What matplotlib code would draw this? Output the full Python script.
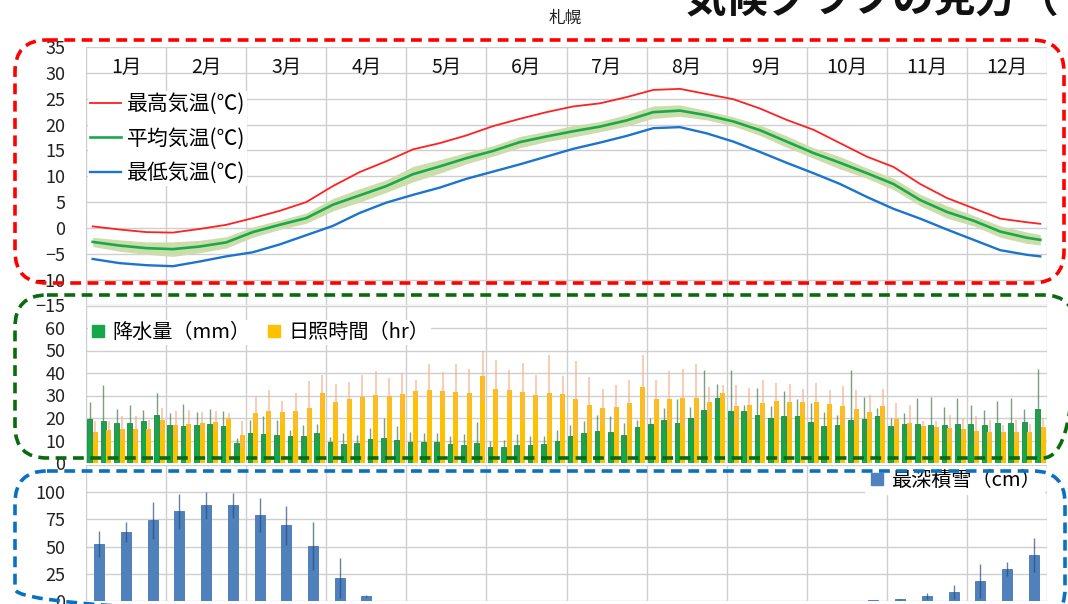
import numpy as np
import matplotlib.pyplot as plt
from matplotlib.patches import FancyBboxPatch
from matplotlib.lines import Line2D

plt.rcParams['font.family'] = ['Noto Sans CJK JP', 'DejaVu Sans']

# 気温（半旬、2半旬ごとに読み取り）
pentad_idx = list(range(0, 72, 2)) + [71]
tmax = [0.3, -0.3, -0.8, -0.9, -0.2, 0.6, 1.9, 3.3, 5.0, 8.1,
        10.8, 12.9, 15.2, 16.4, 17.9, 19.7, 21.1, 22.4, 23.5, 24.1,
        25.3, 26.7, 26.9, 25.9, 24.9, 23.1, 20.9, 19.0, 16.4, 13.8,
        11.8, 8.5, 5.8, 3.8, 1.8, 1.1, 0.8]
tmean = [-2.7, -3.4, -3.9, -4.1, -3.6, -2.8, -0.8, 0.6, 1.9, 4.5,
         6.3, 8.1, 10.4, 11.9, 13.5, 14.9, 16.6, 17.7, 18.7, 19.6,
         20.8, 22.4, 22.7, 21.8, 20.6, 18.9, 16.7, 14.5, 12.6, 10.6,
         8.5, 5.4, 3.1, 1.4, -0.7, -1.9, -2.3]
tmin = [-6.0, -6.8, -7.2, -7.4, -6.5, -5.5, -4.7, -3.2, -1.4, 0.4,
        2.9, 4.9, 6.4, 7.8, 9.5, 10.9, 12.3, 13.8, 15.3, 16.5,
        17.8, 19.3, 19.5, 18.3, 16.7, 14.7, 12.6, 10.6, 8.5, 6.0,
        3.7, 1.8, -0.3, -2.3, -4.3, -5.2, -5.5]
tmean_spread = [0.9, 1.1, 1.2, 1.4, 1.2, 1.1, 1.0, 0.9, 1.0, 1.2,
                1.3, 1.2, 1.5, 1.3, 1.1, 1.0, 1.1, 1.0, 1.1, 1.0,
                1.1, 1.2, 1.1, 0.9, 0.9, 1.0, 1.1, 1.0, 1.2, 1.0,
                1.1, 1.1, 1.2, 1.0, 1.1, 1.1, 1.0]

# 降水量・日照時間（72半旬）
precip = [19.6, 18.8, 18.0, 18.0, 18.6, 21.3,
          16.7, 16.4, 16.8, 17.3, 16.4, 8.9,
          13.4, 12.9, 12.6, 11.9, 11.9, 13.5,
          9.5, 8.5, 8.9, 10.7, 11.2, 10.1,
          9.5, 9.5, 9.2, 8.3, 8.0, 8.9,
          7.1, 7.1, 8.0, 8.0, 8.3, 10.0,
          11.9, 13.4, 14.4, 13.7, 12.5, 15.9,
          17.3, 19.0, 17.9, 19.8, 23.7, 28.9,
          23.2, 22.9, 21.3, 19.9, 21.0, 20.7,
          18.3, 16.4, 16.7, 19.0, 19.6, 21.0,
          16.4, 17.3, 17.3, 16.8, 16.7, 17.3,
          17.3, 17.1, 17.6, 17.6, 18.3, 23.8]
precip_hi = [27.1, 34.5, 24.0, 25.9, 23.5, 31.3,
             22.2, 26.2, 22.6, 24.0, 22.9, 11.0,
             18.9, 21.1, 18.9, 14.7, 16.7, 17.3,
             11.5, 13.2, 12.5, 15.5, 20.1, 16.4,
             13.7, 13.2, 13.2, 12.2, 12.9, 18.2,
             10.0, 10.4, 12.9, 12.2, 12.0, 14.7,
             17.0, 18.5, 21.4, 20.8, 17.7, 19.3,
             20.1, 24.4, 28.3, 25.0, 41.2, 35.3,
             41.2, 25.6, 33.5, 25.3, 32.0, 28.3,
             26.6, 22.6, 21.5, 41.2, 29.3, 24.4,
             19.9, 22.2, 28.9, 29.2, 25.0, 28.9,
             25.6, 23.7, 27.4, 28.9, 24.1, 41.7]
sunshine = [14.0, 14.7, 14.9, 14.9, 14.9, 19.0,
            17.1, 17.4, 17.7, 18.3, 19.8, 12.5,
            22.2, 22.9, 22.6, 22.9, 24.4, 31.1,
            27.1, 28.3, 29.3, 30.1, 29.8, 30.8,
            32.1, 32.6, 32.1, 31.5, 31.3, 38.5,
            33.0, 32.6, 31.5, 30.4, 31.0, 30.7,
            28.4, 25.9, 24.4, 25.1, 26.8, 33.6,
            28.3, 28.4, 28.7, 28.7, 27.2, 31.0,
            25.3, 25.7, 26.8, 27.5, 27.2, 26.9,
            26.9, 26.3, 25.4, 24.0, 22.6, 25.3,
            19.6, 18.0, 16.5, 15.8, 15.5, 15.2,
            14.1, 13.7, 13.7, 14.0, 14.0, 16.1]
sunshine_hi = [18.5, 18.5, 20.8, 20.8, 19.0, 24.6,
               22.9, 23.7, 22.6, 22.9, 22.3, 18.5,
               29.3, 32.3, 27.5, 31.3, 36.3, 39.0,
               35.3, 36.0, 39.0, 40.9, 37.8, 40.0,
               36.8, 44.2, 40.5, 43.9, 41.7, 49.9,
               45.7, 41.5, 44.5, 39.0, 48.2, 38.5,
               45.2, 38.4, 32.7, 34.8, 36.8, 47.9,
               36.8, 40.8, 41.7, 44.0, 33.8, 34.8,
               34.5, 33.3, 36.8, 35.7, 35.0, 32.7,
               35.7, 32.6, 34.2, 32.4, 30.1, 33.0,
               26.8, 25.6, 18.8, 18.8, 21.4, 19.9,
               20.8, 18.9, 17.0, 18.9, 17.4, 19.9]

# 最深積雪（36旬）
snow = [52.8, 63.4, 74.1, 82.5, 87.8, 87.8, 79.1, 69.7, 50.6, 21.3, 4.4,
        0, 0, 0, 0, 0, 0, 0, 0, 0, 0, 0, 0, 0, 0, 0, 0, 0, 0,
        0.5, 1.5, 4.4, 8.4, 18.4, 29.4, 42.2]
snow_hi = [64.7, 72.5, 91.3, 98.8, 100.0, 99.7, 95.0, 87.5, 72.5, 39.4, 5.5,
           0, 0, 0, 0, 0, 0, 0, 0, 0, 0, 0, 0, 0, 0, 0, 0, 0, 0,
           0.6, 1.8, 6.9, 14.7, 34.4, 35.6, 58.1]

months = [f'{m}月' for m in range(1, 13)]

W, H = 1068, 604
fig = plt.figure(figsize=(W / 100, H / 100), dpi=100)


def px_axes(x0, y0, x1, y1):
    return fig.add_axes([x0 / W, 1 - y1 / H, (x1 - x0) / W, (y1 - y0) / H])


def style(ax, ymin, ymax, step, labels):
    ax.set_xlim(0, 12)
    ax.set_ylim(ymin, ymax)
    ax.set_xticks(range(13))
    ax.set_yticks(labels)
    ax.set_yticks(np.arange(ymin, ymax + 0.1, step), minor=True)
    ax.grid(True, which='both', color='#cfcfcf', lw=1)
    ax.set_axisbelow(True)
    for s in ax.spines.values():
        s.set_visible(False)
    ax.tick_params(which='both', length=0, labelbottom=False, pad=15, labelsize=13, labelcolor='#222222')


# 気温
ax1 = px_axes(86, 47, 1047, 305.5)
style(ax1, -15, 35, 5, np.arange(-15, 36, 5))
xt = (np.array(pentad_idx) + 0.5) / 6
lo = np.array(tmean) - np.array(tmean_spread)
hi = np.array(tmean) + np.array(tmean_spread)
ax1.fill_between(xt, lo, hi, color='#cbddab', lw=0)
ax1.plot(xt, tmax, color='#ff2020', lw=1.3)
ax1.plot(xt, tmean, color='#1aa84a', lw=1.9)
ax1.plot(xt, tmin, color='#1c74cc', lw=1.7)
for i, m in enumerate(months):
    ax1.text(i + 0.5, 31.1, m, ha='center', va='center', fontsize=14, color='#111111')
h1 = [Line2D([], [], color='#ff2020', lw=1.3),
      Line2D([], [], color='#1aa84a', lw=1.9),
      Line2D([], [], color='#1c74cc', lw=1.7)]
ax1.legend(h1, ['最高気温(℃)', '平均気温(℃)', '最低気温(℃)'], loc='upper left',
           bbox_to_anchor=(0.002, 0.83), fontsize=15, frameon=True, fancybox=False,
           edgecolor='none', framealpha=1, handlelength=1.5, handletextpad=0.25,
           labelspacing=0.6, borderpad=0.1, borderaxespad=0)

# 降水量・日照時間
ax2 = px_axes(86, 305.5, 1047, 463)
style(ax2, 0, 70, 10, np.arange(0, 61, 10))
xp = (np.arange(72) + 0.5) / 6
bw = 5 / 80
off = 2.8 / 80
p = np.array(precip)
s = np.array(sunshine)
ax2.bar(xp - off, p, width=bw, color='#14a84a', edgecolor='#0e8d3d', lw=0.6, zorder=2)
ax2.bar(xp + off, s, width=bw, color='#ffc000', lw=0, zorder=2)
ax2.errorbar(xp - off, p, yerr=np.array(precip_hi) - p, fmt='none',
             ecolor='#4f7f5a', elinewidth=1, alpha=0.75, zorder=3)
ax2.errorbar(xp + off, s, yerr=np.array(sunshine_hi) - s, fmt='none',
             ecolor='#f6b08a', elinewidth=1.1, alpha=0.8, zorder=3)
h2 = [Line2D([], [], ls='none', marker='s', ms=9, color='#14a84a'),
      Line2D([], [], ls='none', marker='s', ms=9, color='#ffc000')]
ax2.legend(h2, ['降水量（mm）', '日照時間（hr）'], loc='upper left', ncol=2,
           bbox_to_anchor=(0.002, 0.91), fontsize=14.5, frameon=True, fancybox=False,
           edgecolor='none', framealpha=1, handlelength=0.8, handletextpad=0.3,
           columnspacing=0.8, borderpad=0.1, borderaxespad=0)

# 最深積雪
ax3 = px_axes(86, 465, 1047, 601)
style(ax3, 0, 125, 25, np.arange(0, 101, 25))
xs = (np.arange(36) + 0.5) / 3
sn = np.array(snow)
ax3.bar(xs, sn, width=10 / 80, color='#4f81bd', edgecolor='#4676b0', lw=0.6, zorder=2)
mask = sn > 1
ax3.errorbar(xs[mask], sn[mask], yerr=(np.array(snow_hi) - sn)[mask], fmt='none',
             ecolor='#2a4a80', elinewidth=1, alpha=0.7, zorder=3)
h3 = [Line2D([], [], ls='none', marker='s', ms=8, color='#4f81bd')]
ax3.legend(h3, ['最深積雪（cm）'], loc='upper right', bbox_to_anchor=(0.998, 0.99),
           fontsize=14.5, frameon=True, fancybox=False, edgecolor='none', framealpha=1,
           handlelength=0.8, handletextpad=0.3, borderpad=0.2, borderaxespad=0)

# 重ね書きの枠と見出し
ov = fig.add_axes([0, 0, 1, 1], zorder=10)
ov.set_xlim(0, W)
ov.set_ylim(H, 0)
ov.axis('off')
ov.patch.set_alpha(0)
boxes = [((15, 40), 1049, 243, '#ff0000'),
         ((15, 295), 1060, 163, '#086b0c'),
         ((15, 471), 1050, 150, '#0a70c2')]
for xy, w, h, c in boxes:
    ov.add_patch(FancyBboxPatch(xy, w, h, boxstyle='round,pad=0,rounding_size=32',
                                fill=False, ec=c, lw=2.6, ls=(0, (3, 1.8))))
ov.text(565, 18, '札幌', ha='center', va='center', fontsize=12, color='#222222')
ov.text(684, 12, '気候グラフの見方（', ha='left', va='baseline', fontsize=30,
        fontweight='bold', color='#111111')

fig.savefig('out.png', dpi=100)
